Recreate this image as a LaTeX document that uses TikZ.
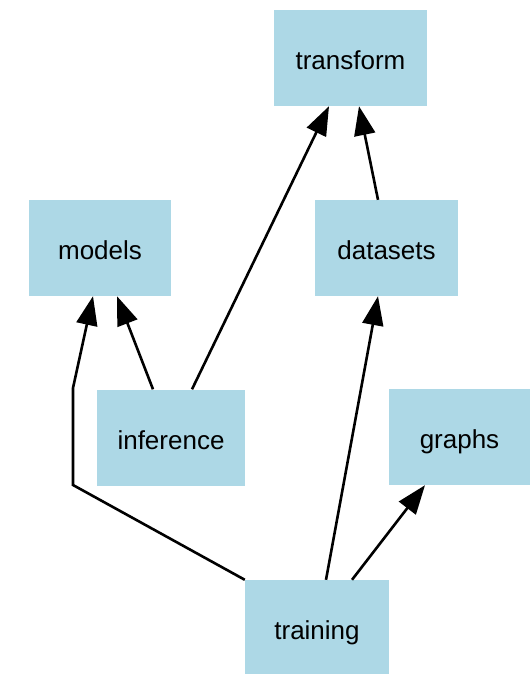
\documentclass[tikz,border=0pt]{standalone}
\usepackage{fontspec}
\setmainfont{Liberation Sans}
\usetikzlibrary{arrows.meta}
\definecolor{lb}{HTML}{ADD8E6}
\begin{document}
\begin{tikzpicture}[x=1pt,y=-1pt,
  box/.style={rectangle,fill=lb,inner sep=0pt,minimum height=96pt,text height=23pt,text depth=0pt,font=\fontsize{26}{30}\selectfont},
  edge/.style={line width=2.6pt,-{Triangle[length=29pt,width=21pt]}}]
\useasboundingbox (0,0) rectangle (530,674);
\node[box,minimum width=153pt] (transform) at (350.5,58) {transform};
\node[box,minimum width=142pt] (models) at (100,248) {models};
\node[box,minimum width=143pt] (datasets) at (386.5,248) {datasets};
\node[box,minimum width=148pt] (inference) at (171,437.5) {inference};
\node[box,minimum width=141pt] (graphs) at (459.5,437) {graphs};
\node[box,minimum width=144pt] (training) at (317,628) {training};
\coordinate (b1) at (73,485);
\coordinate (b2) at (73,388);
\draw[edge] ([xshift=-18pt]inference.north) -- ([xshift=17pt]models.south);
\draw[edge] ([xshift=21pt]inference.north) -- ([xshift=-21.5pt]transform.south);
\draw[edge] ([xshift=-8.5pt]datasets.north) -- ([xshift=8.5pt]transform.south);
\draw[edge] (training.north west) -- (b1) -- (b2) -- ([xshift=-7pt]models.south);
\draw[edge] ([xshift=9pt]training.north) -- ([xshift=-8.5pt]datasets.south);
\draw[edge] ([xshift=35pt]training.north) -- ([xshift=-34.5pt]graphs.south);
\end{tikzpicture}
\end{document}
